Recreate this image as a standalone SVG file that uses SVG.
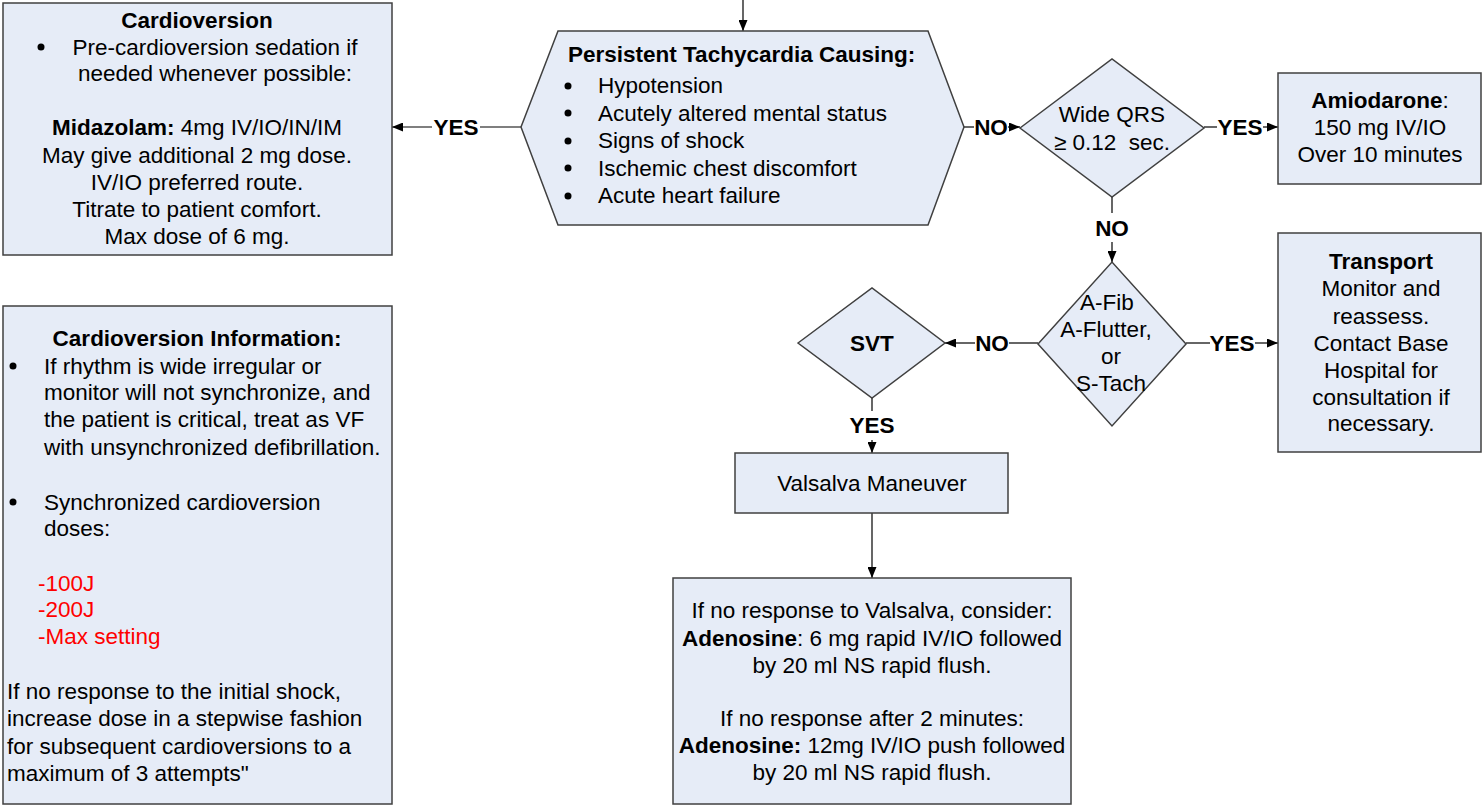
<svg xmlns="http://www.w3.org/2000/svg" width="1482" height="805" viewBox="0 0 1482 805">
<style>
text{font-family:"Liberation Sans",Arial,sans-serif;font-size:22.5px;fill:#000}
.c{text-anchor:middle}
.b{font-weight:bold}
.r{fill:#FF0000}
.shape{fill:#E6ECF7;stroke:#404040;stroke-width:1.5}
.ln{stroke:#000;stroke-width:1.2;fill:none}
.ar{marker-end:url(#ah)}
</style>
<defs>
<marker id="ah" markerUnits="userSpaceOnUse" markerWidth="11" markerHeight="9" refX="11" refY="4.5" orient="auto">
<path d="M0,0 L11,4.5 L0,9 z" fill="#000"/>
</marker>
</defs>

<g id="connectors">
<line class="ln ar" x1="743" y1="0" x2="743" y2="31"/>
<line class="ln" x1="521" y1="127" x2="480" y2="127"/>
<line class="ln ar" x1="432" y1="127" x2="392" y2="127"/>
<text class="c b" x="456" y="135">YES</text>
<line class="ln" x1="964" y1="127" x2="974" y2="127"/>
<text class="c b" x="991" y="135">NO</text>
<line class="ln ar" x1="1008" y1="127" x2="1020" y2="127"/>
<line class="ln" x1="1204" y1="127" x2="1217" y2="127"/>
<text class="c b" x="1240" y="135">YES</text>
<line class="ln ar" x1="1263" y1="127" x2="1278" y2="127"/>
<line class="ln" x1="1112" y1="197" x2="1112" y2="213"/>
<text class="c b" x="1112" y="236">NO</text>
<line class="ln ar" x1="1112" y1="242" x2="1112" y2="262"/>
<line class="ln" x1="1038" y1="343" x2="1009" y2="343"/>
<text class="c b" x="992" y="351">NO</text>
<line class="ln ar" x1="975" y1="343" x2="945" y2="343"/>
<line class="ln" x1="1186" y1="343" x2="1210" y2="343"/>
<text class="c b" x="1232" y="351">YES</text>
<line class="ln ar" x1="1255" y1="343" x2="1278" y2="343"/>
<line class="ln" x1="872" y1="398" x2="872" y2="411"/>
<text class="c b" x="872" y="433">YES</text>
<line class="ln ar" x1="872" y1="440" x2="872" y2="453"/>
<line class="ln ar" x1="872" y1="513" x2="872" y2="578"/>
</g>

<g id="cardioversion">
<rect class="shape" x="3" y="3" width="389" height="252"/>
<text class="c b" x="197" y="28">Cardioversion</text>
<circle cx="41" cy="47" r="3.5" fill="#000"/>
<text class="c" x="215" y="55">Pre-cardioversion sedation if</text>
<text class="c" x="215" y="81">needed whenever possible:</text>
<text class="c" x="197" y="135"><tspan class="b">Midazolam:</tspan> 4mg IV/IO/IN/IM</text>
<text class="c" x="197" y="163">May give additional 2 mg dose.</text>
<text class="c" x="197" y="190">IV/IO preferred route.</text>
<text class="c" x="197" y="217">Titrate to patient comfort.</text>
<text class="c" x="197" y="244">Max dose of 6 mg.</text>
</g>

<g id="cardioversion-info">
<rect class="shape" x="3" y="306" width="389" height="498"/>
<text class="c b" x="197" y="346">Cardioversion Information:</text>
<circle cx="13" cy="366" r="3.5" fill="#000"/>
<text x="44" y="374">If rhythm is wide irregular or</text>
<text x="44" y="400">monitor will not synchronize, and</text>
<text x="44" y="427">the patient is critical, treat as VF</text>
<text x="44" y="455">with unsynchronized defibrillation.</text>
<circle cx="13" cy="502" r="3.5" fill="#000"/>
<text x="44" y="510">Synchronized cardioversion</text>
<text x="44" y="536">doses:</text>
<text class="r" x="38" y="591">-100J</text>
<text class="r" x="38" y="617">-200J</text>
<text class="r" x="38" y="644">-Max setting</text>
<text x="7" y="699">If no response to the initial shock,</text>
<text x="7" y="726">increase dose in a stepwise fashion</text>
<text x="7" y="754">for subsequent cardioversions to a</text>
<text x="7" y="781">maximum of 3 attempts"</text>
</g>

<g id="persistent-tachycardia">
<polygon class="shape" points="521,127 558,31 928,31 964,127 928,225 558,225"/>
<text x="568" y="62" class="b">Persistent Tachycardia Causing:</text>
<circle cx="568" cy="86" r="3.5" fill="#000"/>
<circle cx="568" cy="113" r="3.5" fill="#000"/>
<circle cx="568" cy="141" r="3.5" fill="#000"/>
<circle cx="568" cy="168" r="3.5" fill="#000"/>
<circle cx="568" cy="196" r="3.5" fill="#000"/>
<text x="598" y="93">Hypotension</text>
<text x="598" y="121">Acutely altered mental status</text>
<text x="598" y="148">Signs of shock</text>
<text x="598" y="176">Ischemic chest discomfort</text>
<text x="598" y="203">Acute heart failure</text>
</g>

<g id="wide-qrs">
<polygon class="shape" points="1020,128 1112,59 1204,128 1112,197"/>
<text class="c" x="1112" y="122">Wide QRS</text>
<text class="c" x="1112" y="150" xml:space="preserve">≥ 0.12  sec.</text>
</g>

<g id="amiodarone">
<rect class="shape" x="1278" y="73" width="203" height="111"/>
<text class="c" x="1380" y="108"><tspan class="b">Amiodarone</tspan>:</text>
<text class="c" x="1380" y="135">150 mg IV/IO</text>
<text class="c" x="1380" y="162">Over 10 minutes</text>
</g>

<g id="afib">
<polygon class="shape" points="1038,344 1112,262 1186,344 1112,426"/>
<text class="c" x="1107" y="310">A-Fib</text>
<text class="c" x="1106" y="337">A-Flutter,</text>
<text class="c" x="1111" y="364">or</text>
<text class="c" x="1111" y="391">S-Tach</text>
</g>

<g id="transport">
<rect class="shape" x="1278" y="233" width="203" height="219"/>
<text class="c b" x="1381" y="269">Transport</text>
<text class="c" x="1381" y="296">Monitor and</text>
<text class="c" x="1381" y="324">reassess.</text>
<text class="c" x="1381" y="351">Contact Base</text>
<text class="c" x="1381" y="378">Hospital for</text>
<text class="c" x="1381" y="405">consultation if</text>
<text class="c" x="1381" y="431">necessary.</text>
</g>

<g id="svt">
<polygon class="shape" points="798,343 872,288 945,343 872,398"/>
<text class="c b" x="872" y="351">SVT</text>
</g>

<g id="valsalva">
<rect class="shape" x="735" y="453" width="273" height="60"/>
<text class="c" x="872" y="491">Valsalva Maneuver</text>
</g>

<g id="adenosine">
<rect class="shape" x="673" y="578" width="398" height="226"/>
<text class="c" x="872" y="618">If no response to Valsalva, consider:</text>
<text class="c" x="872" y="646"><tspan class="b">Adenosine</tspan>: 6 mg rapid IV/IO followed</text>
<text class="c" x="872" y="673">by 20 ml NS rapid flush.</text>
<text class="c" x="872" y="726">If no response after 2 minutes:</text>
<text class="c" x="872" y="753"><tspan class="b">Adenosine:</tspan> 12mg IV/IO push followed</text>
<text class="c" x="872" y="780">by 20 ml NS rapid flush.</text>
</g>
</svg>
